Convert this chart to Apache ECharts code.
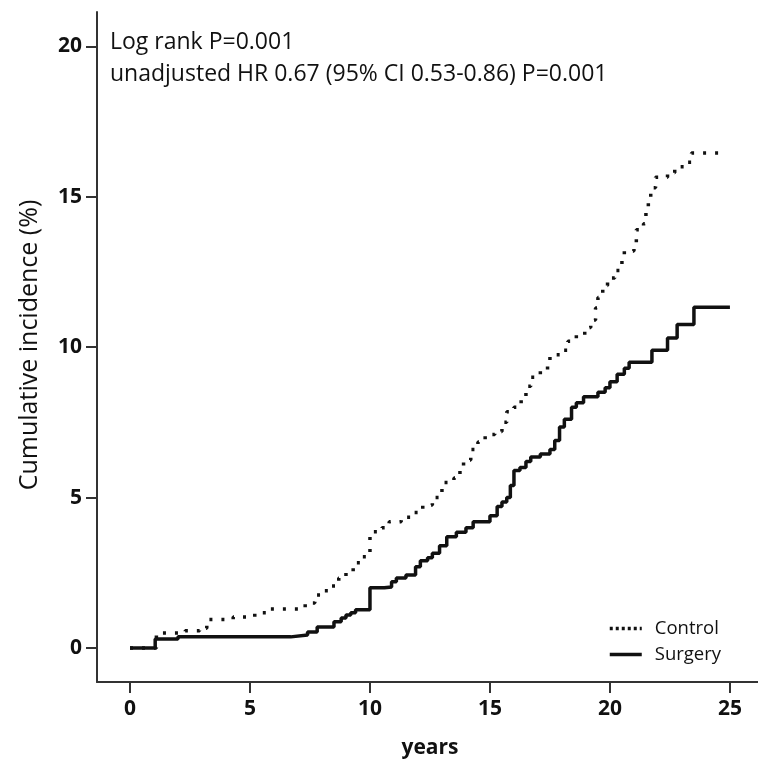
<!DOCTYPE html>
<html>
<head>
<meta charset="utf-8">
<script src="https://cdn.jsdelivr.net/npm/echarts@6/dist/echarts.min.js"></script>
<style>
  html, body { margin: 0; padding: 0; background: #fff; }
  #chart { width: 758px; height: 765px; }
</style>
</head>
<body>
<div id="chart"></div>
<script>
// 累积发生率 (step curves)
var controlYears = [0, 1.1, 2.3, 2.9, 3.2, 4.3, 5.2, 5.8, 7.3, 7.7, 8.1, 8.4, 8.7, 9.0, 9.3, 9.6, 10.0, 10.5, 10.8, 11.3, 11.8, 12.2, 12.6, 13.0, 13.5, 13.75, 13.9, 14.2, 14.5, 14.8, 15.2, 15.5, 15.7, 16.0, 16.3, 16.5, 16.7, 17.1, 17.4, 17.5, 18.0, 18.25, 18.6, 18.95, 19.2, 19.4, 19.5, 19.7, 19.9, 20.2, 20.5, 20.6, 21.0, 21.1, 21.4, 21.5, 21.6, 21.7, 21.9, 22.4, 22.7, 23.1, 23.4, 24.8];
var controlPct = [0, 0.5, 0.57, 0.66, 0.95, 1.03, 1.17, 1.3, 1.5, 1.76, 1.9, 2.06, 2.33, 2.53, 2.83, 3.03, 3.86, 4.0, 4.2, 4.35, 4.5, 4.75, 5.0, 5.5, 5.65, 6.0, 6.25, 6.6, 6.85, 7.1, 7.2, 7.5, 7.85, 8.0, 8.35, 8.7, 9.0, 9.2, 9.4, 9.75, 9.9, 10.2, 10.4, 10.65, 10.9, 11.3, 11.65, 12.05, 12.3, 12.55, 12.9, 13.2, 13.45, 13.9, 14.1, 14.5, 14.9, 15.3, 15.65, 15.8, 16.0, 16.15, 16.45, 16.45];

var surgeryYears = [0, 1.05, 2.0, 6.7, 7.4, 7.8, 8.5, 8.8, 9.0, 9.2, 9.4, 10.0, 10.6, 10.9, 11.1, 11.5, 11.9, 12.1, 12.4, 12.6, 12.9, 13.2, 13.6, 14.0, 14.3, 15.0, 15.3, 15.5, 15.7, 15.85, 16.0, 16.25, 16.5, 16.7, 17.1, 17.5, 17.7, 17.9, 18.1, 18.4, 18.6, 18.9, 19.5, 19.8, 20.0, 20.3, 20.6, 20.8, 21.75, 22.4, 22.8, 23.5, 25.0];
var surgeryPct = [0, 0.3, 0.37, 0.43, 0.53, 0.7, 0.87, 1.0, 1.1, 1.17, 1.27, 2.0, 2.03, 2.2, 2.33, 2.43, 2.7, 2.9, 3.0, 3.15, 3.4, 3.7, 3.85, 4.0, 4.2, 4.4, 4.7, 4.85, 5.0, 5.4, 5.9, 6.0, 6.2, 6.35, 6.45, 6.6, 6.9, 7.35, 7.6, 8.0, 8.15, 8.35, 8.5, 8.65, 8.85, 9.1, 9.3, 9.5, 9.9, 10.3, 10.75, 11.33, 11.33];

var xTicks = [0, 5, 10, 15, 20, 25];
var yTicks = [0, 5, 10, 15, 20];

function pairs(xs, ys) {
  var out = [];
  xs.forEach(function (x, i) { out.push([x, ys[i]]); });
  return out;
}

var myChart = echarts.init(document.getElementById('chart'));
var font = '"Open Sans", "Noto Sans", sans-serif';
var hidden = { color: 'rgba(0,0,0,0)', borderColor: 'rgba(0,0,0,0)', borderWidth: 0 };
var option = {
  animation: false,
  textStyle: { fontFamily: font, color: '#111' },
  grid: { left: 97, right: 0, top: 12, bottom: 83 },
  xAxis: {
    type: 'value',
    min: -1.375,
    max: 26.17,
    axisLine: { onZero: false, lineStyle: { color: '#333', width: 2 } },
    axisTick: { customValues: xTicks, length: 11, lineStyle: { color: '#333', width: 2 } },
    axisLabel: { customValues: xTicks, fontSize: 21, fontWeight: 'bold', color: '#111', margin: 17, fontFamily: font },
    splitLine: { show: false }
  },
  yAxis: {
    type: 'value',
    min: -1.13,
    max: 21.14,
    axisLine: { show: true, onZero: false, lineStyle: { color: '#333', width: 2 } },
    axisTick: { show: true, customValues: yTicks, length: 11, lineStyle: { color: '#333', width: 2 } },
    axisLabel: { customValues: yTicks, fontSize: 21, fontWeight: 'bold', color: '#111', margin: 15, fontFamily: font },
    splitLine: { show: false }
  },
  legend: {
    orient: 'vertical',
    left: 603,
    top: 614,
    itemWidth: 32,
    itemHeight: 14,
    itemGap: 7,
    itemStyle: hidden,
    textStyle: { fontSize: 18.5, color: '#111', fontFamily: font, padding: [0, 0, 0, 8] },
    data: [
      { name: 'Control', lineStyle: { type: [3, 3], width: 3.5 } },
      { name: 'Surgery', lineStyle: { width: 3.5 } }
    ]
  },
  graphic: [
    {
      type: 'text', left: 110, top: 31,
      style: { text: 'Log rank P=0.001', font: '23px ' + font, fill: '#111' }
    },
    {
      type: 'text', left: 110, top: 63,
      style: { text: 'unadjusted HR 0.67 (95% CI 0.53-0.86) P=0.001', font: '23px ' + font, fill: '#111' }
    },
    {
      type: 'text', x: 430, y: 748,
      style: { text: 'years', font: 'bold 21px ' + font, fill: '#111', align: 'center', verticalAlign: 'middle' }
    },
    {
      type: 'text', x: 30, y: 345, rotation: Math.PI / 2,
      style: { text: 'Cumulative incidence (%)', font: '25px ' + font, fill: '#111', align: 'center', verticalAlign: 'middle' }
    }
  ],
  series: [
    {
      name: 'Control',
      type: 'line',
      step: 'end',
      showSymbol: false,
      symbol: 'none',
      data: pairs(controlYears, controlPct),
      lineStyle: { color: '#111', width: 3.5, type: [3, 9], cap: 'butt' },
      itemStyle: { color: '#111' }
    },
    {
      name: 'Surgery',
      type: 'line',
      step: 'end',
      showSymbol: false,
      symbol: 'none',
      data: pairs(surgeryYears, surgeryPct),
      lineStyle: { color: '#111', width: 3.5 },
      itemStyle: { color: '#111' }
    }
  ]
};
myChart.setOption(option);
window.onresize = myChart.resize;
</script>
</body>
</html>
